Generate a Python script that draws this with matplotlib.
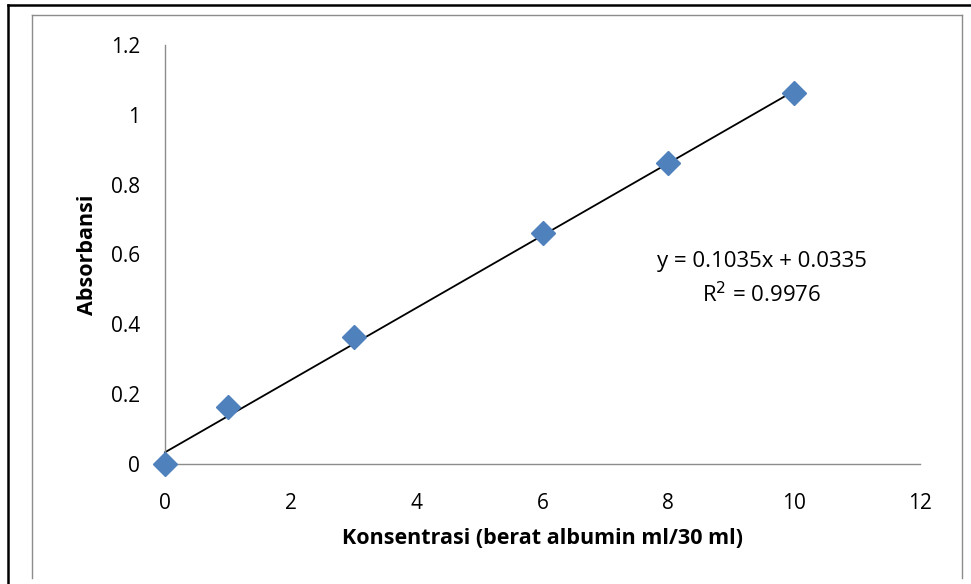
import matplotlib
matplotlib.use("Agg")
import matplotlib.pyplot as plt
from matplotlib.lines import Line2D
import numpy as np

# Data
konsentrasi = [0, 1, 3, 6, 8, 10]
absorbansi = [0.0, 0.163, 0.364, 0.662, 0.862, 1.063]
slope = 0.1035
intercept = 0.0335
r2 = 0.9976
x_ticks = [0, 2, 4, 6, 8, 10, 12]
y_ticks = [0, 0.2, 0.4, 0.6, 0.8, 1.0, 1.2]
y_tick_labels = ["0", "0.2", "0.4", "0.6", "0.8", "1", "1.2"]

plt.rcParams['font.family'] = ['Open Sans', 'DejaVu Sans']

fig = plt.figure(figsize=(9.71, 5.84), dpi=100)
fig.patch.set_facecolor('white')

W, H = 971, 584
def fx(px):
    return px / W
def fy(py):
    return 1 - py / H

# outer black border (top and left)
fig.add_artist(Line2D([fx(8), fx(971)], [fy(5), fy(5)], color='black', lw=1.8))
fig.add_artist(Line2D([fx(8), fx(8)], [fy(5), fy(584)], color='black', lw=1.8))
# inner gray frame
fig.add_artist(Line2D([fx(32), fx(962)], [fy(15), fy(15)], color='#8c8c8c', lw=1.0))
fig.add_artist(Line2D([fx(32), fx(32)], [fy(15), fy(578)], color='#8c8c8c', lw=1.0))
fig.add_artist(Line2D([fx(962), fx(962)], [fy(15), fy(578)], color='#8c8c8c', lw=1.0))

ax = fig.add_axes([fx(165), fy(464), fx(920) - fx(165), fy(45) - fy(464)])
ax.set_xlim(0, 12)
ax.set_ylim(0, 1.2)

xs = np.array([konsentrasi[0], konsentrasi[-1]])
ax.plot(xs, slope * xs + intercept, color='black', lw=1.3, zorder=2, clip_on=False)
ax.plot(konsentrasi, absorbansi, linestyle='none', marker='D', markersize=12,
        color='#4F81BD', markeredgecolor='#4F81BD', zorder=3, clip_on=False)

for s in ['top', 'right']:
    ax.spines[s].set_visible(False)
for s in ['left', 'bottom']:
    ax.spines[s].set_color('#8c8c8c')
    ax.spines[s].set_linewidth(1.0)

ax.set_xticks(x_ticks)
ax.set_xticklabels([str(t) for t in x_ticks])
ax.set_yticks(y_ticks)
ax.set_yticklabels(y_tick_labels)
ax.tick_params(axis='both', length=0, labelsize=15)
ax.tick_params(axis='x', pad=21)
ax.tick_params(axis='y', pad=18)

ax.set_xlabel("Konsentrasi (berat albumin ml/30 ml)", fontsize=15.5, fontweight='bold', labelpad=10)
ax.set_ylabel("Absorbansi", fontsize=15.5, fontweight='bold', labelpad=9)

ax.text(fx(762), fy(262), f"y = {slope}x + {intercept}", transform=fig.transFigure,
        ha='center', va='center', fontsize=16)
ax.text(fx(762), fy(295), f"R$^2$ = {r2}", transform=fig.transFigure,
        ha='center', va='center', fontsize=16)

fig.savefig("out.png", dpi=100, facecolor='white')
